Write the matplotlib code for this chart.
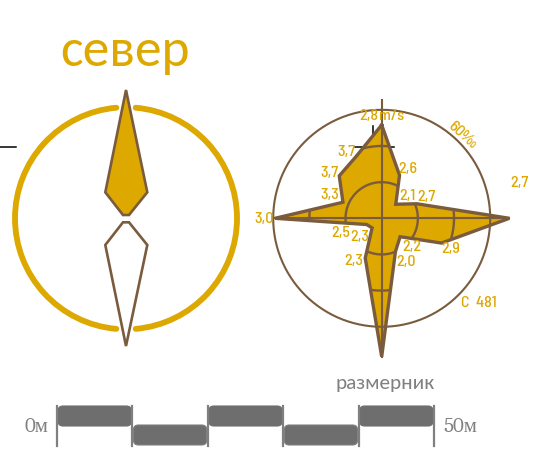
import numpy as np
import matplotlib
matplotlib.use('Agg')
import matplotlib.pyplot as plt
from matplotlib.patches import Arc, FancyBboxPatch, Polygon

# 16 wind directions, clockwise from north
directions = ['N', 'NNE', 'NE', 'ENE', 'E', 'ESE', 'SE', 'SSE', 'S', 'SSW', 'SW', 'WSW', 'W', 'WNW', 'NW', 'NNW']
freq = [51.6, 25.8, 11, 21, 70.6, 35.8, 14.4, 19.9, 76.5, 23.8, 7.5, 9, 59, 23.2, 33.2, 37]  # per mille
speed = ['2,8', '2,6', '2,1', '2,7', '2,7', '2,9', '2,2', '2,0', '', '2,3', '2,3', '2,5', '3,0', '3,3', '3,7', '3,7']
rings = [20, 40]
outer_ring = 60
scale_marks = [0, 10, 20, 30, 40, 50]

GOLD = '#DDA800'
BROWN = '#7B5B3E'
GREY = '#808080'
BAR = '#6E6E6E'
W, H = 534, 467
cx, cy, ring_px = 381.7, 218.3, 108.5
rmax = 80
SANS = ['Carlito', 'Lato', 'DejaVu Sans']
SERIF = ['Caladea', 'Liberation Serif', 'DejaVu Serif']
NARROW = ['Barlow Semi Condensed', 'Barlow Condensed', 'Archivo Narrow', 'Roboto Condensed', 'Liberation Sans', 'DejaVu Sans']

fig = plt.figure(figsize=(W / 100, H / 100), dpi=100)

# pixel axes for the compass, scale bar and stray marks
ax = fig.add_axes([0, 0, 1, 1])
ax.set_xlim(0, W)
ax.set_ylim(H, 0)
ax.axis('off')

ax.text(125.5, 52, 'север', color=GOLD, fontsize=38.5, family=SANS, ha='center', va='center')

# compass ring, two half circles with a gap top and bottom
for t1, t2 in [(-85, 85), (95, 265)]:
    ax.add_patch(Arc((126, 218.3), 222, 222, theta1=t1, theta2=t2, color=GOLD, lw=4.2, capstyle='round'))
ax.add_patch(Polygon([(126, 90), (105.3, 192.3), (123, 215), (129, 215), (147.3, 192.3)],
                     fc=GOLD, ec=BROWN, lw=1.9, joinstyle='miter'))
ax.add_patch(Polygon([(123, 222.3), (129, 222.3), (147.3, 245), (126, 346), (105.3, 245)],
                     fc='white', ec=BROWN, lw=1.9, joinstyle='miter'))

# stray black marks
ax.plot([0, 16], [146.5, 146.5], color='black', lw=1.1)
ax.plot([355, 394], [146.7, 146.7], color='black', lw=1.1)
ax.plot([373, 373], [126, 147], color='black', lw=1.1)

# scale bar
def scale_x(m):
    return 57 + m * 7.54

for m in scale_marks:
    ax.plot([scale_x(m)] * 2, [405.5, 445.5], color=GREY, lw=1.6)
for i in range(len(scale_marks) - 1):
    x0, x1 = scale_x(scale_marks[i]) + 6, scale_x(scale_marks[i + 1]) - 6
    y0, y1 = (411, 421) if i % 2 == 0 else (430, 440)
    ax.add_patch(FancyBboxPatch((x0, y0), x1 - x0, y1 - y0, boxstyle='round,pad=5,rounding_size=5',
                                fc=BAR, ec=BAR if i % 2 == 0 else GREY, lw=0.8))
ax.text(36, 427, '0м', color=GREY, fontsize=15, family=SERIF, ha='center', va='center')
ax.text(460, 427, '50м', color=GREY, fontsize=15, family=SERIF, ha='center', va='center')
ax.text(385, 384, 'размерник', color=GREY, fontsize=15.3, family=SANS, ha='center', va='center')

# wind rose on polar axes, sized so the 60 per mille ring has ring_px radius
R = ring_px * rmax / outer_ring
rose = fig.add_axes([(cx - R) / W, 1 - (cy + R) / H, 2 * R / W, 2 * R / H], projection='polar')
rose.patch.set_alpha(0)
rose.axis('off')
rose.set_theta_zero_location('N')
rose.set_theta_direction(-1)
rose.set_ylim(0, rmax)

theta = np.deg2rad(np.arange(len(freq)) * 22.5)
tc = np.append(theta, theta[0])
rc = np.append(freq, freq[0])
fill = rose.fill(tc, rc, color=GOLD, lw=0, zorder=1)[0]

full = np.linspace(0, 2 * np.pi, 361)
for r in rings:
    line, = rose.plot(full, [r] * 361, color=BROWN, lw=1.7, zorder=2)
    line.set_clip_path(fill)
rose.plot(full, [outer_ring] * 361, color=BROWN, lw=1.5, zorder=2)

# spokes
rose.plot([0, 0], [0, 65.5], color=BROWN, lw=1.5, zorder=3)
rose.plot([np.pi, np.pi], [0, freq[8]], color=BROWN, lw=1.5, zorder=3)
rose.plot([np.pi / 2, np.pi / 2], [0, freq[4]], color=BROWN, lw=1.5, zorder=3)
rose.plot([3 * np.pi / 2, 3 * np.pi / 2], [0, freq[12]], color=BROWN, lw=1.5, zorder=3)
rose.plot(tc, rc, color=BROWN, lw=2.4, zorder=4, solid_joinstyle='miter')

# speed labels, placed by hand in pixels
label_pos = [(369, 116), (407.7, 169), (407.7, 196), (426.7, 197.5), (519.3, 183), (450.7, 248.5),
             (411.7, 247.5), (405.7, 262), (0, 0), (354, 261), (360, 237.5), (340.7, 233),
             (264, 219), (330, 195), (329.3, 173.5), (346.7, 152)]
font = dict(color=GOLD, fontsize=11.5, family=NARROW, weight='medium',
            ha='center', va='center', transform=ax.transData, zorder=5)
for s, (x, y) in zip(speed, label_pos):
    if s:
        rose.text(x, y, s, **font)
rose.text(392, 116, 'm/s', **font)
rose.text(461.7, 135, '60‰', rotation=-42, **font)
rose.text(479, 303, 'C  481', **font)

fig.savefig('out.png', dpi=100)
